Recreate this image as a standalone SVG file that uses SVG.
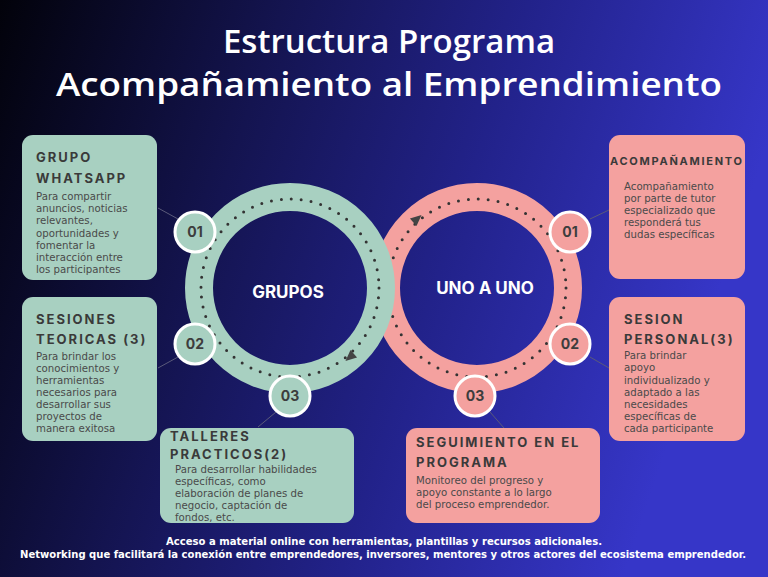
<svg xmlns="http://www.w3.org/2000/svg" width="768" height="577" viewBox="0 0 768 577">
<defs>
<linearGradient id="bg" x1="0" y1="0" x2="1" y2="0.25">
<stop offset="0" stop-color="#02020a"/>
<stop offset="0.35" stop-color="#141450"/>
<stop offset="0.65" stop-color="#22228a"/>
<stop offset="1" stop-color="#3636c8"/>
</linearGradient>
<style>
.title{font-family:"Open Sans","Liberation Sans",sans-serif;font-weight:600;font-size:33px;fill:#fff;text-anchor:middle}
.foot{font-family:"DejaVu Sans Condensed","DejaVu Sans",sans-serif;font-weight:bold;font-size:11px;fill:#fff;text-anchor:middle}
.g{fill:#a8d0c1}
.p{fill:#f4a19f}
.bt{font-family:Inter,"Liberation Sans",sans-serif;font-weight:700;font-size:13px;letter-spacing:2px;fill:#3a3a3a}
.bd{font-family:"DejaVu Sans","Liberation Sans",sans-serif;font-size:10.2px;fill:#4a4a4a}
.badge{stroke:#fff;stroke-width:3}
.num{font-family:Inter,"Liberation Sans",sans-serif;font-weight:700;font-size:14px;fill:#3d3d3d;text-anchor:middle}
.ring{fill:none;stroke-width:28}
.dots{fill:none;stroke:#333;stroke-width:3;stroke-linecap:round;stroke-dasharray:0 10}
.lbl{font-family:Inter,"Liberation Sans",sans-serif;font-weight:700;font-size:17px;fill:#fff;text-anchor:middle}
.conn{stroke:#5a5a7a;stroke-width:1}
</style>
</defs>
<rect width="768" height="577" fill="url(#bg)"/>

<g id="title">
<text class="title" x="389" y="53">Estructura Programa</text>
<text class="title" x="389" y="96" textLength="666" lengthAdjust="spacingAndGlyphs">Acompañamiento al Emprendimiento</text>
</g>

<g id="connectors">
<line class="conn" x1="158" y1="208" x2="178" y2="219"/>
<line class="conn" x1="158" y1="368" x2="178" y2="357"/>
<line class="conn" x1="258" y1="427" x2="276" y2="412"/>
<line class="conn" x1="590" y1="219" x2="609" y2="210"/>
<line class="conn" x1="590" y1="357" x2="609" y2="368"/>
<line class="conn" x1="490" y1="412" x2="504" y2="428"/>
</g>

<g id="ring-uno">
<circle class="ring" cx="477" cy="288" r="91" stroke="#f4a19f"/>
<circle class="dots" cx="477" cy="288" r="89"/>
<polygon points="6,0 -5,-5 -5,5" fill="#444" transform="translate(417,219) rotate(-41)"/>
<text class="lbl" x="485" y="294">UNO A UNO</text>
</g>

<g id="ring-grupos">
<circle class="ring" cx="290" cy="288" r="91" stroke="#a8d0c1"/>
<circle class="dots" cx="290" cy="288" r="89"/>
<polygon points="6,0 -5,-5 -5,5" fill="#444" transform="translate(350,357) rotate(139)"/>
<text class="lbl" x="288" y="298">GRUPOS</text>
</g>

<g id="g01"><circle class="g badge" cx="195" cy="232" r="20"/><text class="num" x="195" y="237">01</text></g>
<g id="g02"><circle class="g badge" cx="195" cy="344" r="20"/><text class="num" x="195" y="349">02</text></g>
<g id="g03"><circle class="g badge" cx="290" cy="396" r="20"/><text class="num" x="290" y="401">03</text></g>
<g id="p01"><circle class="p badge" cx="570" cy="232" r="20"/><text class="num" x="570" y="237">01</text></g>
<g id="p02"><circle class="p badge" cx="570" cy="344" r="20"/><text class="num" x="570" y="349">02</text></g>
<g id="p03"><circle class="p badge" cx="475" cy="396" r="20"/><text class="num" x="475" y="401">03</text></g>

<g id="box-whatsapp">
<rect class="g" x="22" y="135" width="135" height="145" rx="11"/>
<text class="bt" x="36" y="162">GRUPO</text>
<text class="bt" x="36" y="183">WHATSAPP</text>
<text class="bd" x="36" y="200">Para compartir</text>
<text class="bd" x="36" y="212">anuncios, noticias</text>
<text class="bd" x="36" y="224">relevantes,</text>
<text class="bd" x="36" y="237">oportunidades y</text>
<text class="bd" x="36" y="249">fomentar la</text>
<text class="bd" x="36" y="261">interacción entre</text>
<text class="bd" x="36" y="273">los participantes</text>
</g>

<g id="box-sesiones">
<rect class="g" x="22" y="297" width="135" height="144" rx="11"/>
<text class="bt" x="36" y="324">SESIONES</text>
<text class="bt" x="36" y="344">TEORICAS (3)</text>
<text class="bd" x="36" y="360">Para brindar los</text>
<text class="bd" x="36" y="372">conocimientos y</text>
<text class="bd" x="36" y="384">herramientas</text>
<text class="bd" x="36" y="396">necesarios para</text>
<text class="bd" x="36" y="408">desarrollar sus</text>
<text class="bd" x="36" y="420">proyectos de</text>
<text class="bd" x="36" y="432">manera exitosa</text>
</g>

<g id="box-talleres">
<rect class="g" x="160" y="428" width="194" height="95" rx="11"/>
<text class="bt" x="170" y="441">TALLERES</text>
<text class="bt" x="170" y="459">PRACTICOS(2)</text>
<text class="bd" x="175" y="473">Para desarrollar habilidades</text>
<text class="bd" x="175" y="485">específicas, como</text>
<text class="bd" x="175" y="497">elaboración de planes de</text>
<text class="bd" x="175" y="509">negocio, captación de</text>
<text class="bd" x="175" y="521">fondos, etc.</text>
</g>

<g id="box-acomp">
<rect class="p" x="609" y="135" width="136" height="144" rx="11"/>
<text class="bt" x="610" y="165" style="font-size:11px" textLength="134" lengthAdjust="spacing">ACOMPAÑAMIENTO</text>
<text class="bd" x="624" y="190">Acompañamiento</text>
<text class="bd" x="624" y="202">por parte de tutor</text>
<text class="bd" x="624" y="214">especializado que</text>
<text class="bd" x="624" y="226">responderá tus</text>
<text class="bd" x="624" y="238">dudas específicas</text>
</g>

<g id="box-sesion-personal">
<rect class="p" x="609" y="297" width="136" height="144" rx="11"/>
<text class="bt" x="624" y="324">SESION</text>
<text class="bt" x="624" y="344">PERSONAL(3)</text>
<text class="bd" x="624" y="359">Para brindar</text>
<text class="bd" x="624" y="371">apoyo</text>
<text class="bd" x="624" y="384">individualizado y</text>
<text class="bd" x="624" y="396">adaptado a las</text>
<text class="bd" x="624" y="408">necesidades</text>
<text class="bd" x="624" y="420">específicas de</text>
<text class="bd" x="624" y="432">cada participante</text>
</g>

<g id="box-seguimiento">
<rect class="p" x="406" y="428" width="194" height="95" rx="11"/>
<text class="bt" x="416" y="447">SEGUIMIENTO EN EL</text>
<text class="bt" x="416" y="467">PROGRAMA</text>
<text class="bd" x="416" y="484">Monitoreo del progreso y</text>
<text class="bd" x="416" y="496">apoyo constante a lo largo</text>
<text class="bd" x="416" y="508">del proceso emprendedor.</text>
</g>

<g id="footer">
<text class="foot" x="384" y="545" textLength="436" lengthAdjust="spacingAndGlyphs">Acceso a material online con herramientas, plantillas y recursos adicionales.</text>
<text class="foot" x="383" y="558" textLength="726" lengthAdjust="spacingAndGlyphs">Networking que facilitará la conexión entre emprendedores, inversores, mentores y otros actores del ecosistema emprendedor.</text>
</g>
</svg>
